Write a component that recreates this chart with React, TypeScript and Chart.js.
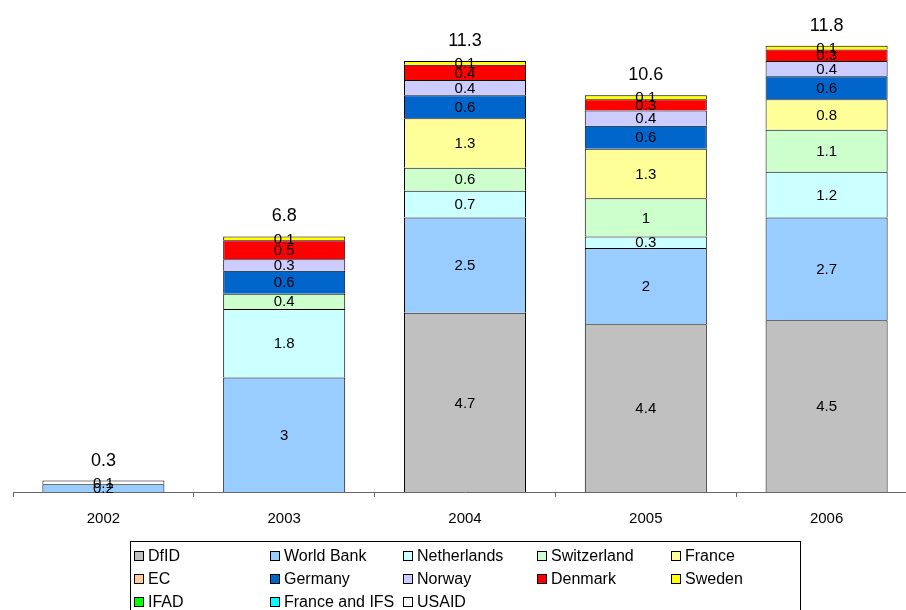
import React, { useEffect, useRef } from "react";
import { Chart, registerables } from "chart.js";

Chart.register(...registerables);

const categories = ["2002", "2003", "2004", "2005", "2006"];
const dfid = [null, null, 4.7, 4.4, 4.5];
const worldBank = [0.2, 3, 2.5, 2, 2.7];
const netherlands = [null, 1.8, 0.7, 0.3, 1.2];
const switzerland = [null, 0.4, 0.6, 1, 1.1];
const france = [null, null, 1.3, 1.3, 0.8];
const ec = [null, null, null, null, null];
const germany = [null, 0.6, 0.6, 0.6, 0.6];
const norway = [null, 0.3, 0.4, 0.4, 0.4];
const denmark = [null, 0.5, 0.4, 0.3, 0.3];
const sweden = [null, 0.1, 0.1, 0.1, 0.1];
const ifad = [null, null, null, null, null];
const franceAndIFS = [null, null, null, null, null];
const usaid = [0.1, null, null, null, null];
const totals = [0.3, 6.8, 11.3, 10.6, 11.8];

const seriesNames = [
  "DfID", "World Bank", "Netherlands", "Switzerland", "France",
  "EC", "Germany", "Norway", "Denmark", "Sweden",
  "IFAD", "France and IFS", "USAID",
];
const seriesData = [
  dfid, worldBank, netherlands, switzerland, france,
  ec, germany, norway, denmark, sweden,
  ifad, franceAndIFS, usaid,
];
const seriesColors = [
  "#C0C0C0", "#99CCFF", "#CCFFFF", "#CCFFCC", "#FFFF99",
  "#FFCC99", "#0066CC", "#CCCCFF", "#FF0000", "#FFFF00",
  "#00FF00", "#00FFFF", "#FFFFFF",
];

const FONT = "'Liberation Sans', Arial, sans-serif";

const labelsPlugin = {
  id: "customLabels",
  afterDatasetsDraw(chart: any) {
    const ctx = chart.ctx;
    ctx.save();
    ctx.fillStyle = "#000";
    ctx.textAlign = "center";
    ctx.textBaseline = "middle";
    ctx.font = `15px ${FONT}`;
    chart.data.datasets.forEach((ds: any, di: number) => {
      const meta = chart.getDatasetMeta(di);
      meta.data.forEach((el: any, i: number) => {
        const v = ds.data[i];
        if (v == null) return;
        const y = (el.y + el.base) / 2;
        ctx.fillText(String(v), el.x, y + 1);
      });
    });
    // totals
    ctx.font = `18px ${FONT}`;
    const ys = chart.scales.y;
    const xs = chart.scales.x;
    totals.forEach((t, i) => {
      let sum = 0;
      seriesData.forEach((arr) => {
        const v = arr[i];
        if (v != null) sum += v;
      });
      const x = xs.getPixelForValue(i);
      const y = ys.getPixelForValue(sum) - 20;
      ctx.fillText(String(t), x, y);
    });
    ctx.restore();
  },
  afterDraw(chart: any) {
    const ctx = chart.ctx;
    ctx.save();
    // legend box
    ctx.strokeStyle = "#000";
    ctx.lineWidth = 1;
    ctx.strokeRect(130.5, 541.5, 670, 90);
    const colX = [134, 270, 403, 537, 671];
    const rowY = [556, 579, 602];
    ctx.font = `16px ${FONT}`;
    ctx.textAlign = "left";
    ctx.textBaseline = "middle";
    chart.data.datasets.forEach((ds: any, i: number) => {
      const c = i % 5;
      const r = Math.floor(i / 5);
      const x = colX[c];
      const y = rowY[r];
      ctx.fillStyle = ds.backgroundColor;
      ctx.fillRect(x + 0.5, y - 4.5, 9, 9);
      ctx.strokeStyle = "#000";
      ctx.strokeRect(x + 0.5, y - 4.5, 9, 9);
      ctx.fillStyle = "#000";
      ctx.fillText(ds.label, x + 14, y + 1);
    });
    ctx.restore();
  },
};

export default function App() {
  const canvasRef = useRef<HTMLCanvasElement | null>(null);

  useEffect(() => {
    document.body.style.margin = "0";
    const canvas = canvasRef.current;
    if (!canvas) return;
    const chart = new Chart(canvas, {
      type: "bar",
      data: {
        labels: categories,
        datasets: seriesNames.map((name, i) => ({
          label: name,
          data: seriesData[i] as any,
          backgroundColor: seriesColors[i],
          borderColor: "#000",
          borderWidth: { top: 1, left: 1, right: 1, bottom: 0 },
          borderSkipped: false,
          categoryPercentage: 1,
          barPercentage: 0.675,
        })),
      },
      options: {
        animation: false,
        responsive: true,
        maintainAspectRatio: false,
        layout: { padding: { left: 13, right: 0, top: 0, bottom: 0 } },
        plugins: {
          legend: { display: false },
          tooltip: { enabled: false },
        },
        scales: {
          x: {
            stacked: true,
            grid: {
              display: true,
              drawOnChartArea: false,
              drawTicks: true,
              tickLength: 5,
              color: "#666",
              offset: true,
            },
            border: { display: true, color: "#666" },
            ticks: {
              color: "#000",
              font: { family: FONT, size: 15 },
              padding: 13,
            },
            afterFit: (scale: any) => {
              scale.height = 118;
            },
          },
          y: {
            stacked: true,
            display: false,
            min: 0,
            max: 12.9,
          },
        },
      },
      plugins: [labelsPlugin],
    });
    return () => chart.destroy();
  }, []);

  return (
    <div style={{ width: 906, height: 610, overflow: "hidden", position: "relative" }}>
      <div style={{ width: 917, height: 610, position: "relative" }}>
        <canvas ref={canvasRef} />
      </div>
    </div>
  );
}
